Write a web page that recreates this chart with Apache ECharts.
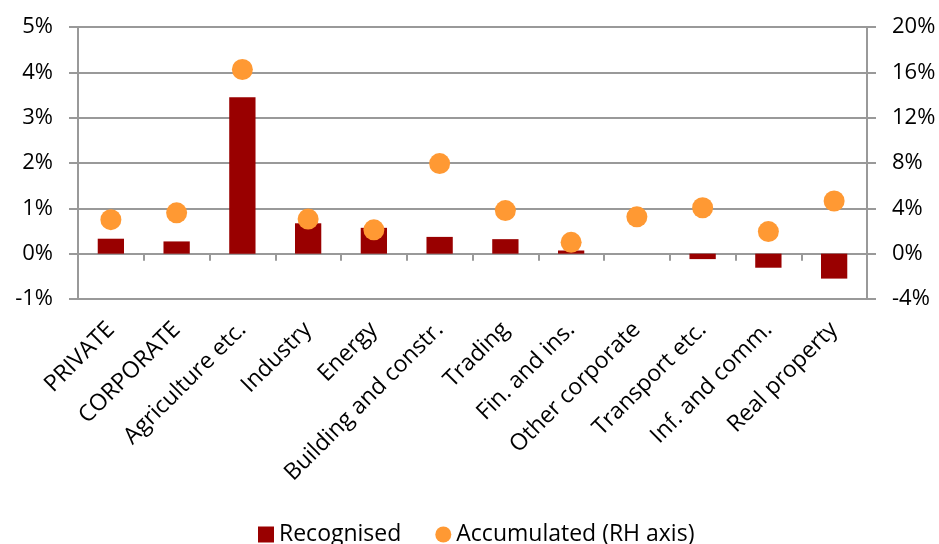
<!DOCTYPE html>
<html>
<head>
<meta charset="utf-8">
<script src="https://cdn.jsdelivr.net/npm/echarts@6/dist/echarts.min.js"></script>
<style>
  html, body { margin: 0; padding: 0; background: #fff; }
  #chart { width: 939px; height: 544px; }
</style>
</head>
<body>
<div id="chart"></div>
<script>
// Sector categories on the x axis
const categories = [
  'PRIVATE', 'CORPORATE', 'Agriculture etc.', 'Industry', 'Energy',
  'Building and constr.', 'Trading', 'Fin. and ins.', 'Other corporate',
  'Transport etc.', 'Inf. and comm.', 'Real property'
];

// Recognised (left axis, %)
const recognised = [0.33, 0.27, 3.45, 0.67, 0.57, 0.37, 0.32, 0.07, 0, -0.12, -0.31, -0.55];

// Accumulated (right axis, %)
const accumulated = [3.0, 3.6, 16.25, 3.05, 2.1, 7.95, 3.8, 1.0, 3.25, 4.05, 1.95, 4.65];

const FONT = 'Open Sans';
const GRID_GRAY = '#999999';
const TEXT = '#000000';

const chart = echarts.init(document.getElementById('chart'), null, { renderer: 'canvas' });

const pct = v => v + '%';

chart.setOption({
  animation: false,
  backgroundColor: '#ffffff',
  textStyle: { fontFamily: FONT },
  grid: { left: 78, right: 72, top: 27, bottom: 245, containLabel: false },
  legend: {
    bottom: -7,
    left: 253,
    itemGap: 34,
    itemWidth: 16,
    itemHeight: 16,
    textStyle: { fontFamily: FONT, fontSize: 23, color: TEXT },
    data: [
      { name: 'Recognised', icon: 'rect', itemStyle: { color: '#990000' } },
      { name: 'Accumulated (RH axis)', icon: 'circle', itemStyle: { color: '#FF9933' } }
    ]
  },
  xAxis: [
    {
      // category labels along the bottom of the plot
      type: 'category',
      data: categories,
      position: 'bottom',
      axisLine: { show: false, onZero: false },
      axisTick: { show: false },
      axisLabel: {
        interval: 0,
        rotate: 45,
        margin: 27,
        fontFamily: FONT,
        fontSize: 23,
        color: TEXT
      }
    },
    {
      // zero line with category tick marks
      type: 'category',
      data: categories,
      position: 'bottom',
      axisLine: { show: true, onZero: true, lineStyle: { color: GRID_GRAY, width: 2 } },
      axisTick: { show: true, interval: 0, length: 7, alignWithLabel: false, lineStyle: { color: GRID_GRAY, width: 2 } },
      axisLabel: { show: false, interval: 0 },
      splitLine: { show: false }
    }
  ],
  yAxis: [
    {
      type: 'value',
      min: -1,
      max: 5,
      interval: 1,
      axisLine: { show: true, lineStyle: { color: GRID_GRAY, width: 2 } },
      axisTick: { show: true, length: 9, lineStyle: { color: GRID_GRAY, width: 2 } },
      axisLabel: { formatter: pct, margin: 25, fontFamily: FONT, fontSize: 22, color: TEXT },
      splitLine: { show: true, lineStyle: { color: GRID_GRAY, width: 2 } }
    },
    {
      type: 'value',
      min: -4,
      max: 20,
      interval: 4,
      position: 'right',
      axisLine: { show: true, lineStyle: { color: GRID_GRAY, width: 2 } },
      axisTick: { show: true, length: 9, lineStyle: { color: GRID_GRAY, width: 2 } },
      axisLabel: { formatter: pct, margin: 25, fontFamily: FONT, fontSize: 22, color: TEXT },
      splitLine: { show: false }
    }
  ],
  series: [
    {
      name: 'Recognised',
      type: 'bar',
      xAxisIndex: 0,
      yAxisIndex: 0,
      data: recognised,
      barWidth: '40%',
      itemStyle: { color: '#990000' },
      z: 2
    },
    {
      name: 'Accumulated (RH axis)',
      type: 'scatter',
      xAxisIndex: 0,
      yAxisIndex: 1,
      data: accumulated,
      symbol: 'circle',
      symbolSize: 21,
      itemStyle: { color: '#FF9933', opacity: 1 },
      z: 3
    }
  ]
});
</script>
</body>
</html>
